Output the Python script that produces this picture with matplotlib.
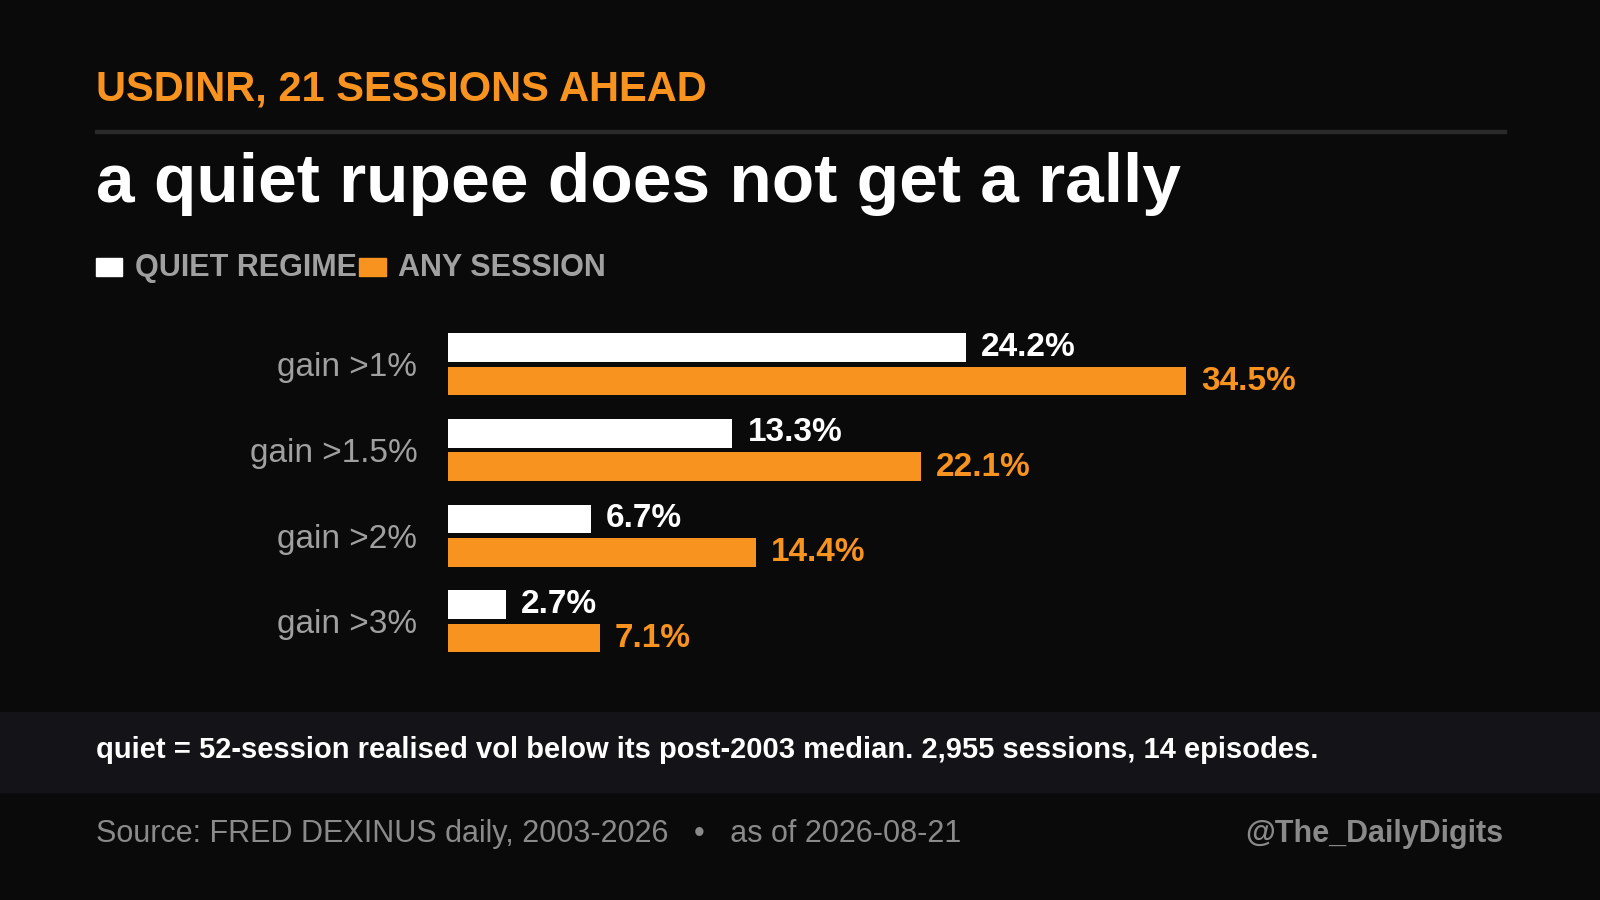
import matplotlib
matplotlib.use("Agg")
import matplotlib.pyplot as plt
from matplotlib.patches import Rectangle

plt.rcParams['font.family'] = ['Liberation Sans', 'DejaVu Sans']

categories = ["gain >1%", "gain >1.5%", "gain >2%", "gain >3%"]
quiet = [24.2, 13.3, 6.7, 2.7]
anysess = [34.5, 22.1, 14.4, 7.1]

BG = "#0a0a0a"
ORANGE = "#f7931e"
GREY = "#a0a0a0"
W, H = 1568, 882

fig = plt.figure(figsize=(16, 9), dpi=100, facecolor=BG)

def fx(px):
    return px / W

def fy(py):
    return 1 - py / H

# header
fig.text(fx(94), fy(88), "USDINR, 21 SESSIONS AHEAD", color=ORANGE, fontsize=30,
         fontweight="bold", va="center")
fig.add_artist(Rectangle((fx(93), fy(130)), fx(1476 - 93), 3 / H, color="#2a2a2a",
                         transform=fig.transFigure))
fig.text(fx(94), fy(180), "a quiet rupee does not get a rally", color="white",
         fontsize=50, fontweight="bold", va="center")

# legend
fig.add_artist(Rectangle((fx(94), fy(270)), fx(26), 17 / H, color="white",
                         transform=fig.transFigure))
fig.text(fx(132), fy(263), "QUIET REGIME", color=GREY, fontsize=22,
         fontweight="bold", va="center")
fig.add_artist(Rectangle((fx(352), fy(270)), fx(26), 17 / H, color=ORANGE,
                         transform=fig.transFigure))
fig.text(fx(390), fy(263), "ANY SESSION", color=GREY, fontsize=22,
         fontweight="bold", va="center")

# bars
ax = fig.add_axes([fx(439), fy(650), 1 - fx(439), (650 - 310) / H])
ax.set_facecolor(BG)
ys = list(range(len(categories)))
h = 28 / 84
ax.barh([y - 0.195 for y in ys], quiet, height=h, color="white")
ax.barh([y + 0.195 for y in ys], anysess, height=h, color=ORANGE)
for y, q, a in zip(ys, quiet, anysess):
    ax.text(q + 0.7, y - 0.2, f"{q}%", color="white", fontsize=24,
            fontweight="bold", va="center")
    ax.text(a + 0.7, y + 0.2, f"{a}%", color=ORANGE, fontsize=24,
            fontweight="bold", va="center")
ax.set_xlim(0, (W - 439) / 20.96)
ax.set_ylim(3 + 41 / 84, -47 / 84)
ax.set_yticks(ys)
ax.set_yticklabels(categories, color=GREY, fontsize=24)
ax.tick_params(axis="y", length=0, pad=22)
ax.set_xticks([])
for s in ax.spines.values():
    s.set_visible(False)

# footer band
fig.add_artist(Rectangle((0, fy(776)), 1, 78 / H, color="#131318",
                         transform=fig.transFigure))
fig.text(fx(94), fy(735),
         "quiet = 52-session realised vol below its post-2003 median. 2,955 sessions, 14 episodes.",
         color="white", fontsize=21, fontweight="bold", va="center")
fig.text(fx(94), fy(817), "Source: FRED DEXINUS daily, 2003-2026   \u2022   as of 2026-08-21",
         color="#8a8a8a", fontsize=22, va="center")
fig.text(fx(1473), fy(817), "@The_DailyDigits", color="#8a8a8a", fontsize=22,
         fontweight="bold", va="center", ha="right")

fig.savefig("out.png", dpi=100, facecolor=BG)
